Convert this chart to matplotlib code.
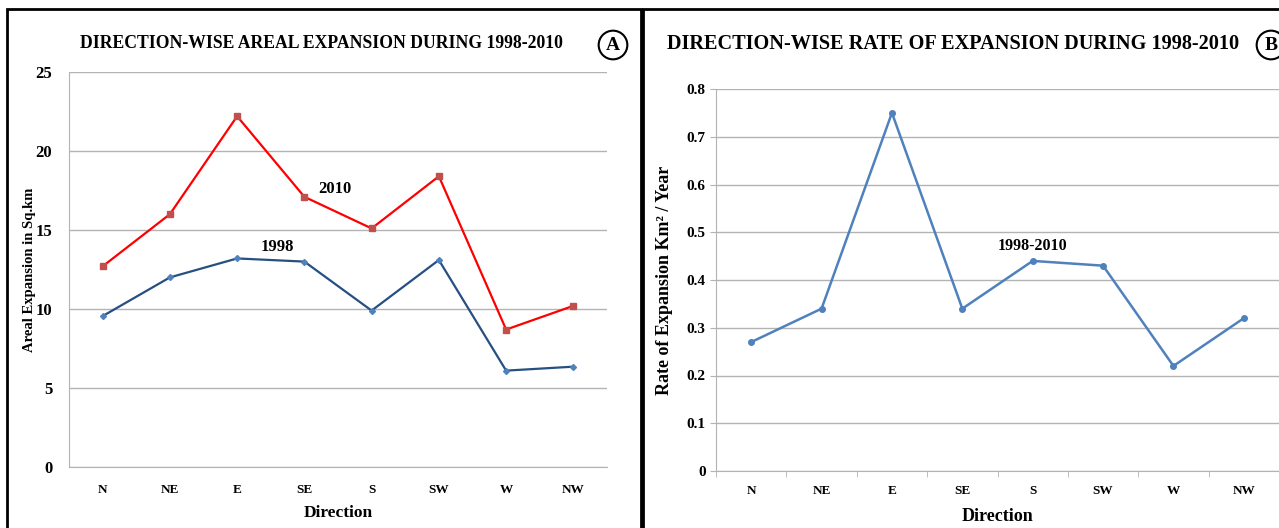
import matplotlib
matplotlib.use("Agg")
import matplotlib.pyplot as plt
from matplotlib.patches import Rectangle

plt.rcParams["font.family"] = ["Liberation Serif", "DejaVu Serif"]
plt.rcParams["font.weight"] = "bold"
plt.rcParams["axes.labelweight"] = "bold"

directions = ["N", "NE", "E", "SE", "S", "SW", "W", "NW"]
area_1998 = [9.55, 12.0, 13.2, 13.0, 9.9, 13.1, 6.1, 6.35]
area_2010 = [12.7, 16.0, 22.2, 17.1, 15.1, 18.4, 8.7, 10.2]
rate_1998_2010 = [0.27, 0.34, 0.75, 0.34, 0.44, 0.43, 0.22, 0.32]

W, H = 1279, 528
fig = plt.figure(figsize=(W / 100, H / 100), dpi=100)


def px_axes(left, top, right, bottom):
    return fig.add_axes([left / W, 1 - bottom / H, (right - left) / W, (bottom - top) / H])


grid_c = "#b3b3b3"
x = list(range(len(directions)))

# ---- panel A
axA = px_axes(69, 72, 607, 467)
axA.plot(x, area_2010, color="#ff0000", lw=1.6, marker="s", ms=5,
         mfc="#c0504d", mec="#c0504d", zorder=3)
axA.plot(x, area_1998, color="#264f82", lw=1.6, marker="D", ms=3,
         mfc="#4f81bd", mec="#4f81bd", zorder=3)
axA.set_xlim(-0.5, len(directions) - 0.5)
axA.set_ylim(0, 25)
axA.set_yticks([0, 5, 10, 15, 20, 25])
axA.set_xticks(x)
axA.set_xticklabels(directions, fontsize=9.5)
axA.tick_params(axis="x", length=0, pad=12)
axA.tick_params(axis="y", length=0, pad=12, labelsize=12)
axA.grid(axis="y", color=grid_c, lw=1)
for s in ["top", "right"]:
    axA.spines[s].set_visible(False)
for s in ["left", "bottom"]:
    axA.spines[s].set_color(grid_c)
axA.text(3.2, 17.1, "2010", fontsize=12, va="bottom", ha="left")
axA.text(2.35, 13.4, "1998", fontsize=12, va="bottom", ha="left")
axA.set_ylabel("Areal Expansion in Sq.km", fontsize=10.5, labelpad=0)
axA.set_xlabel("Direction", fontsize=12.5, labelpad=7)

# ---- panel B
axB = px_axes(716, 89, 1279, 471)
axB.plot(x, rate_1998_2010, color="#4f81bd", lw=1.8, marker="o", ms=4,
         mfc="#4f81bd", mec="#4f81bd", zorder=3)
axB.set_xlim(-0.5, len(directions) - 0.5)
axB.set_ylim(0, 0.8)
axB.set_yticks([0, 0.1, 0.2, 0.3, 0.4, 0.5, 0.6, 0.7, 0.8])
axB.set_yticklabels(["0", "0.1", "0.2", "0.3", "0.4", "0.5", "0.6", "0.7", "0.8"])
axB.set_xticks(x)
axB.set_xticklabels(directions, fontsize=9.5)
axB.set_xticks([i - 0.5 for i in range(len(directions) + 1)], minor=True)
axB.tick_params(axis="x", which="major", length=0, pad=10)
axB.tick_params(axis="x", which="minor", length=4, color=grid_c)
axB.tick_params(axis="y", length=4, color=grid_c, labelsize=11)
axB.grid(axis="y", color=grid_c, lw=1)
for s in ["top", "right"]:
    axB.spines[s].set_visible(False)
for s in ["left", "bottom"]:
    axB.spines[s].set_color(grid_c)
axB.text(4.0, 0.455, "1998-2010", fontsize=11.5, va="bottom", ha="center")
axB.set_ylabel("Rate of Expansion Km² / Year", fontsize=13, labelpad=10)
axB.set_xlabel("Direction", fontsize=13, labelpad=8)

# ---- titles, panel letters, frames
fig.text(321 / W, 1 - 43 / H, "DIRECTION-WISE AREAL EXPANSION DURING 1998-2010",
         fontsize=12.7, ha="center", va="center")
fig.text(953 / W, 1 - 44 / H, "DIRECTION-WISE RATE OF EXPANSION DURING 1998-2010",
         fontsize=14.6, ha="center", va="center")
circ = dict(boxstyle="circle,pad=0.3", fc="white", ec="black", lw=1.5)
fig.text(613 / W, 1 - 45 / H, "A", fontsize=14, ha="center", va="center", bbox=circ)
fig.text(1271 / W, 1 - 45 / H, "B", fontsize=14, ha="center", va="center", bbox=circ)

fig.add_artist(Rectangle((7 / W, -0.05), (641 - 7) / W, 1.05 - 9 / H,
                         transform=fig.transFigure, fill=False, ec="black", lw=2))
fig.add_artist(Rectangle((643 / W, -0.05), 1.0, 1.05 - 9 / H,
                         transform=fig.transFigure, fill=False, ec="black", lw=2))

fig.savefig("out.png", dpi=100)
